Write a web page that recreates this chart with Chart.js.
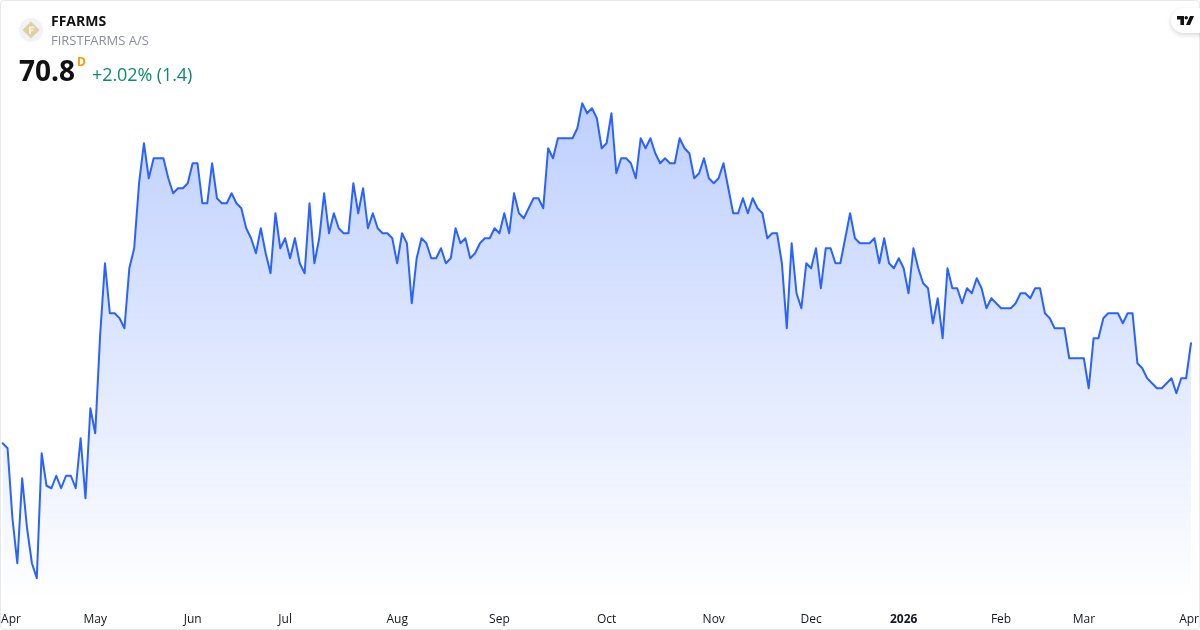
<!DOCTYPE html>
<html>
<head>
<meta charset="utf-8">
<script src="https://cdn.jsdelivr.net/npm/chart.js@4"></script>
<style>
html,body{margin:0;padding:0;background:#fff;width:1200px;height:630px;overflow:hidden;font-family:"Open Sans",sans-serif}
#wrap{position:relative;width:1200px;height:630px;overflow:hidden}
#frame{position:absolute;left:0;top:0;width:1198px;height:628px;border:1px solid #e6e8ee;border-radius:4px;pointer-events:none}
canvas{position:absolute;left:0;top:0}
.t{position:absolute;white-space:nowrap;line-height:1}
#tv{position:absolute;left:1171px;top:8px;width:40px;height:25px;background:#fff;border-radius:13px;box-shadow:0 2px 5px rgba(0,0,0,.16)}
</style>
</head>
<body>
<div id="wrap">
<canvas id="c" width="1200" height="630"></canvas>
<div id="frame"></div>
<svg style="position:absolute;left:19px;top:18px" width="25" height="25" viewBox="0 0 25 25">
  <circle cx="12" cy="12" r="12" fill="#eff2f9"/>
  <polygon points="12,3.5 20.5,12 12,20.5 3.5,12" fill="#e3cf9b"/>
  <path d="M10 8.5h5.5v1.8h-3.5v1.3h2.8v1.7H12v2.7h-2z" fill="#f7f0dc"/>
</svg>
<div class="t" style="left:51px;top:14px;font-size:14px;font-weight:700;color:#111">FFARMS</div>
<div class="t" style="left:51px;top:34px;font-size:13px;color:#8b8f99">FIRSTFARMS A/S</div>
<div class="t" style="left:19px;top:56px;font-size:28px;font-weight:700;color:#111">70.8</div>
<div class="t" style="left:77px;top:56px;font-size:12px;font-weight:700;color:#ff9800">D</div>
<div class="t" style="left:92px;top:65px;font-size:18px;letter-spacing:-0.1px;color:#0a8a72">+2.02% (1.4)</div>
<div id="tv">
<svg style="position:absolute;left:6px;top:8px" width="17" height="9" viewBox="0 0 17 9">
  <path d="M0 0h7v9H3.4V3.4H0z" fill="#111"/>
  <circle cx="9.2" cy="1.7" r="1.7" fill="#111"/>
  <path d="M13 0h4l-4 9H9z" fill="#111"/>
</svg>
</div>
</div>
<script>
const prices = [
66.8,66.6,63.8,62.0,65.4,63.4,62.0,61.4,66.4,65.1,65.0,65.5,65.0,65.5,65.5,65.0,67.0,64.6,68.2,67.2,
71.1,74.0,72.0,72.0,71.8,71.4,73.8,74.6,77.2,78.8,77.4,78.2,78.2,78.2,77.4,76.8,77.0,77.0,77.2,78.0,
78.0,76.4,76.4,78.0,76.6,76.4,76.4,76.8,76.4,76.2,75.4,75.0,74.4,75.4,74.4,73.6,76.0,74.6,75.0,74.2,
75.0,74.0,73.6,76.4,74.0,75.0,76.8,75.2,76.0,75.4,75.2,75.2,77.2,76.0,77.0,75.4,76.0,75.4,75.2,75.2,
75.0,74.0,75.2,74.8,72.4,74.2,75.0,74.8,74.2,74.2,74.6,74.0,74.2,75.4,74.8,75.0,74.2,74.4,74.8,75.0,
75.0,75.4,75.2,76.0,75.2,76.8,76.0,75.8,76.2,76.6,76.6,76.2,78.6,78.2,79.0,79.0,79.0,79.0,79.4,80.4,
80.0,80.2,79.8,78.6,78.8,80.0,77.6,78.2,78.2,78.0,77.4,79.0,78.6,79.0,78.4,78.0,78.2,78.0,78.0,79.0,
78.6,78.4,77.4,77.6,78.2,77.4,77.2,77.4,78.0,77.0,76.0,76.0,76.6,76.0,76.6,76.2,76.0,75.0,75.2,75.2,
74.0,71.4,74.8,72.8,72.2,74.0,73.8,74.6,73.0,74.6,74.6,74.0,74.0,75.0,76.0,75.0,74.8,74.8,74.8,75.0,
74.0,75.0,74.0,73.8,74.2,73.8,72.8,74.6,73.8,73.2,73.0,71.6,72.6,71.0,73.8,73.0,73.0,72.4,73.0,72.8,
73.4,73.0,72.2,72.6,72.4,72.2,72.2,72.2,72.4,72.8,72.8,72.6,73.0,73.0,72.0,71.8,71.4,71.4,71.4,70.2,
70.2,70.2,70.2,69.0,71.0,71.0,71.8,72.0,72.0,72.0,71.6,72.0,72.0,70.0,69.8,69.4,69.2,69.0,69.0,69.2,
69.4,68.8,69.4,69.4,70.8
];
const tickLabels = ["Apr","May","Jun","Jul","Aug","Sep","Oct","Nov","Dec","2026","Feb","Mar","Apr"];
const tickIndices = [1.7,19,39,58,81,102,124,146,166,185,205,222,243.6];
const boldTick = "2026";

new Chart(document.getElementById('c'), {
  type: 'line',
  data: { datasets: [{
    data: prices.map((y, x) => ({ x, y })),
    borderColor: '#2962ff',
    borderWidth: 2,
    borderJoinStyle: 'round',
    borderCapStyle: 'round',
    pointRadius: 0,
    tension: 0,
    fill: 'start',
    backgroundColor(ctx) {
      const a = ctx.chart.chartArea;
      if (!a) return 'rgba(41,98,255,0.2)';
      const s = ctx.chart.scales.y;
      const g = ctx.chart.ctx.createLinearGradient(0, s.getPixelForValue(Math.max(...prices)), 0, a.bottom);
      g.addColorStop(0, 'rgba(41,98,255,0.3)');
      g.addColorStop(1, 'rgba(41,98,255,0)');
      return g;
    }
  }]},
  options: {
    responsive: false,
    animation: false,
    parsing: false,
    normalized: true,
    layout: { padding: 0 },
    plugins: { legend: { display: false }, tooltip: { enabled: false } },
    scales: {
      x: {
        type: 'linear',
        min: -0.554,
        max: 245.85,
        grid: { display: false, drawBorder: false },
        border: { display: false },
        afterBuildTicks(s) { s.ticks = tickIndices.map(value => ({ value })); },
        afterFit(s) { s.height = 30; s.paddingLeft = 0; s.paddingRight = 0; },
        ticks: {
          autoSkip: false, maxRotation: 0, minRotation: 0, padding: 4,
          color: '#131722',
          font(c) {
            const bold = tickLabels[c.index] === boldTick;
            return { family: '"Open Sans",sans-serif', size: 12, weight: bold ? 'bold' : 'normal' };
          },
          callback(v, i) { return tickLabels[i]; }
        }
      },
      y: { display: false, min: 60.53, max: 84.53 }
    }
  }
});
</script>
</body>
</html>
